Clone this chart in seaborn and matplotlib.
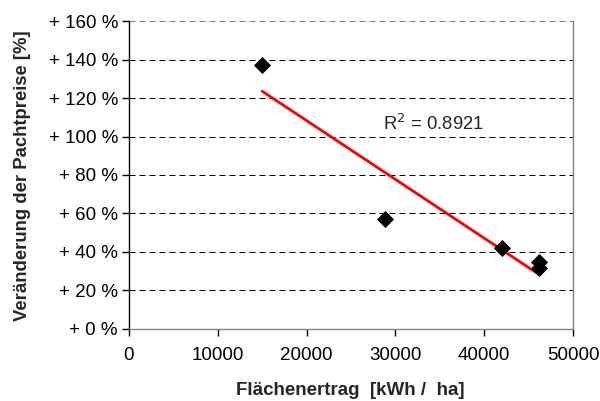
import numpy as np
import pandas as pd
import matplotlib
matplotlib.use("Agg")
import matplotlib.pyplot as plt
import seaborn as sns

# Flächenertrag [kWh/ha] und Veränderung der Pachtpreise [%]
ertrag = [15000, 28800, 42000, 46200, 46200]
veraenderung = [137, 57, 42, 35, 31.5]
y_ticks = [0, 20, 40, 60, 80, 100, 120, 140, 160]
x_ticks = [0, 10000, 20000, 30000, 40000, 50000]

data = pd.DataFrame({"ertrag": ertrag, "veraenderung": veraenderung})

sns.set_style("white")
plt.rcParams["font.family"] = ["Liberation Sans", "DejaVu Sans"]

fig = plt.figure(figsize=(6, 4.01), dpi=100)
ax = fig.add_axes([0.215, 0.1796, 0.74, 0.768])

# lineare Trendlinie
slope, intercept = np.polyfit(data["ertrag"], data["veraenderung"], 1)
xs = np.array([data["ertrag"].min(), data["ertrag"].max()])
ax.plot(xs, slope * xs + intercept, color="red", lw=2, zorder=2)

sns.scatterplot(data=data, x="ertrag", y="veraenderung", marker="D", s=65,
                color="black", edgecolor="black", ax=ax, zorder=3)

ax.set_xlim(0, 50000)
ax.set_ylim(0, 160)
ax.set_xticks(x_ticks)
ax.set_yticks(y_ticks)
ax.set_yticklabels([f"+ {v} %" for v in y_ticks])
ax.tick_params(axis="both", direction="out", length=5, width=1, labelsize=13.5,
               colors="black", left=True, bottom=True)
ax.tick_params(axis="x", pad=8)
ax.tick_params(axis="y", pad=3)

for v in y_ticks[1:-1]:
    ax.axhline(v, color="black", lw=0.72, ls=(0, (6, 4)), zorder=1)
ax.axhline(160, color="gray", lw=0.72, ls=(0, (6, 4)), zorder=1)

ax.spines["top"].set_visible(False)
ax.spines["right"].set_color("gray")
ax.spines["bottom"].set_color("gray")
ax.spines["left"].set_color("black")
for s in ax.spines.values():
    s.set_linewidth(1)

ax.text(0.571, 0.645, "R$^2$ = 0.8921", transform=ax.transAxes, fontsize=13.3)

ax.set_xlabel("Flächenertrag  [kWh /  ha]", fontsize=13.5, fontweight="bold")
ax.set_ylabel("Veränderung der Pachtpreise [%]", fontsize=13.3, fontweight="bold")
ax.xaxis.set_label_coords(0.498, -0.201)
ax.xaxis.label.set_va("center")
ax.yaxis.set_label_coords(-0.239, 0.497)
ax.yaxis.label.set_va("center")

fig.savefig("out.png", dpi=100)
